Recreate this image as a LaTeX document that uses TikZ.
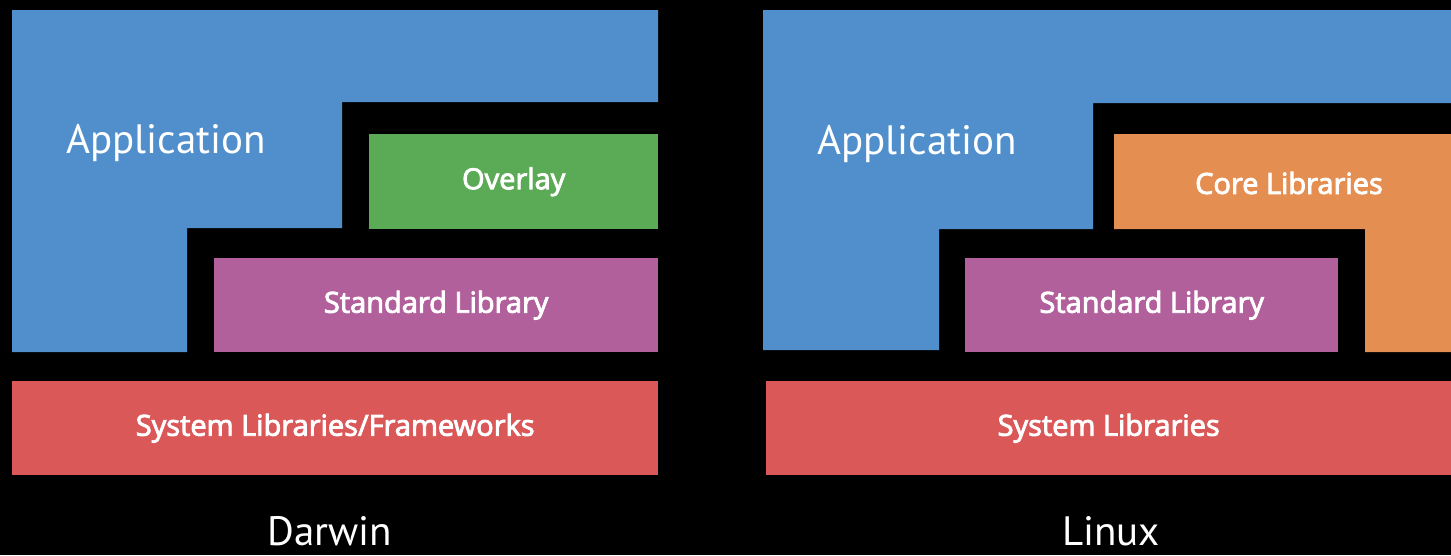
\documentclass[tikz,border=0pt]{standalone}
\usepackage{fontspec}
\setmainfont{PT Sans}
\newfontfamily\boxfont{Open Sans}[FakeBold=3]
\usetikzlibrary{positioning}

\definecolor{appblue}{RGB}{81,143,204}
\definecolor{overgreen}{RGB}{91,170,85}
\definecolor{stdpurple}{RGB}{177,96,155}
\definecolor{sysred}{RGB}{219,88,88}
\definecolor{coreorange}{RGB}{229,142,82}

\begin{document}
\begin{tikzpicture}[x = 1pt, y = -1pt,
        boxtext/.style = {text = white, inner sep = 0pt, font = \boxfont\fontsize{29}{32}\selectfont},
        layer/.style = {boxtext, shape = rectangle, anchor = north west},
        overlay/.style = {layer, fill = overgreen},
        stdlib/.style = {layer, fill = stdpurple},
        syslib/.style = {layer, fill = sysred},
        biglabel/.style = {text = white, inner sep = 0pt, font = \fontsize{41}{46}\selectfont},
    ]
    % background and page size
    \fill[black] (0,0) rectangle (1451,555);
    \useasboundingbox (0,0) rectangle (1451,555);

    % Darwin
    \fill[appblue] (12,10) -- (658,10) -- (658,102) -- (342,102) -- (342,228) -- (187,228) -- (187,352) -- (12,352) -- cycle;
    \node[biglabel] (dapp) at (166,143) {Application};
    \node[overlay, minimum width = 289pt, minimum height = 95pt] (dover) at (369,134) {Overlay};
    \node[stdlib, minimum width = 444pt, minimum height = 94pt] (dstd) at (214,258) {Standard Library};
    \node[syslib, minimum width = 646pt, minimum height = 94pt] (dsys) at (12,381) {System Libraries/Frameworks};
    \node[biglabel] (darwin) at (330,531) {Darwin};

    % Linux
    \fill[appblue] (763,10) -- (1451,10) -- (1451,103) -- (1093,103) -- (1093,229) -- (939,229) -- (939,350) -- (763,350) -- cycle;
    \node[biglabel] (lapp) at (917,144) {Application};
    \fill[coreorange] (1114,134) -- (1451,134) -- (1451,352) -- (1365,352) -- (1365,229) -- (1114,229) -- cycle;
    \node[boxtext] (lcore) at (1289,183) {Core Libraries};
    \node[stdlib, minimum width = 373pt, minimum height = 94pt] (lstd) at (965,258) {Standard Library};
    \node[syslib, minimum width = 685pt, minimum height = 94pt] (lsys) at (766,381) {System Libraries};
    \node[biglabel] (linux) at (1111,531) {Linux};
\end{tikzpicture}
\end{document}
